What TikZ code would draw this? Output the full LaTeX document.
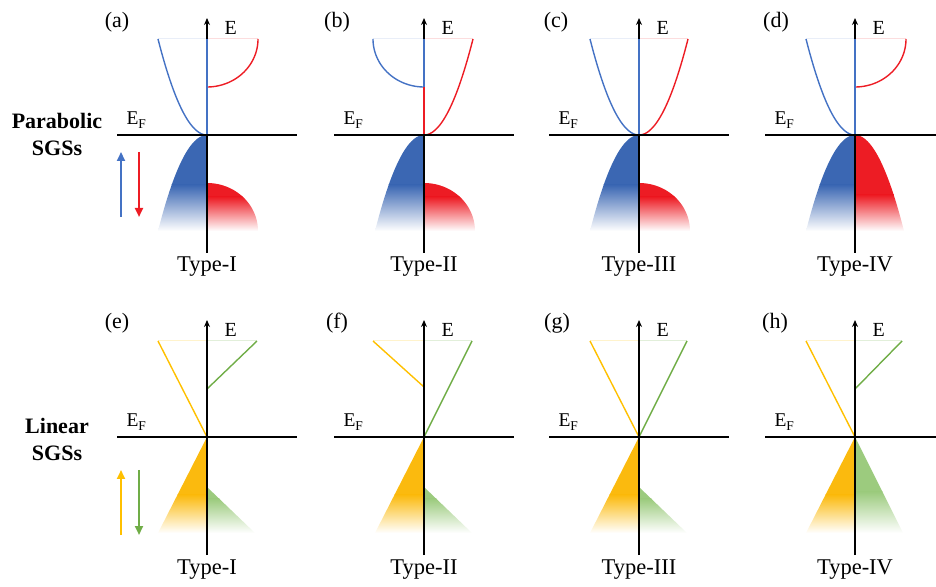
\documentclass[tikz,border=0pt]{standalone}
\usepackage{fontspec}
\setmainfont{Liberation Serif}
\usetikzlibrary{arrows.meta}
\definecolor{cblue}{HTML}{4472C4}
\definecolor{cbluef}{HTML}{3B67B3}
\definecolor{cred}{HTML}{ED1C24}
\definecolor{cyel}{HTML}{FFC000}
\definecolor{cyelf}{HTML}{FBBA0E}
\definecolor{cgrn}{HTML}{70AD47}
\definecolor{cgrnf}{HTML}{9CCB7E}
\tikzset{
  axisline/.style={line width=1.4pt,-{Stealth[length=7pt,width=6pt]}},
  efline/.style={line width=2pt},
  band/.style={line width=1.4pt},
  faint/.style={line width=1pt},
  sidearrow/.style={line width=2.2pt,-{Triangle[length=9pt,width=8pt]}},
  plbl/.style={font=\fontsize{22}{22}\selectfont},
  elbl/.style={font=\fontsize{20}{20}\selectfont,anchor=base west},
  eflbl/.style={font=\fontsize{19.5}{19.5}\selectfont,anchor=base west},
  tlbl/.style={font=\fontsize{22.5}{22.5}\selectfont,anchor=base},
  rowlbl/.style={font=\fontsize{22}{27}\selectfont\bfseries,align=center}
}
\newcommand{\UpParL}[1]{\draw[band,#1] plot[domain=-49:0,samples=40,smooth] (\x,{96*(\x/49)^2});}
\newcommand{\UpParR}[1]{\draw[band,#1] plot[domain=0:49,samples=40,smooth] (\x,{96*(\x/49)^2});}
\newcommand{\UpArcL}[1]{\draw[band,#1] plot[domain=0:90,samples=40,smooth] ({-51*sin(\x)},{96-48*cos(\x)});}
\newcommand{\UpArcR}[1]{\draw[band,#1] plot[domain=0:90,samples=40,smooth] ({51*sin(\x)},{96-48*cos(\x)});}
\newcommand{\GFill}[3]{\begin{scope}\clip #3;
  \fill[#1] (-60,1) rectangle (60,{#2-0.5});
  \shade[top color=#1,bottom color=white] (-60,#2) rectangle (60,-96);
  \end{scope}}
\newcommand{\PLoL}{(0,0) -- plot[domain=0:-49,samples=40,smooth] (\x,{-96*(\x/49)^2}) -- (0,-96) -- cycle}
\newcommand{\PLoR}{(0,0) -- plot[domain=0:49,samples=40,smooth] (\x,{-96*(\x/49)^2}) -- (0,-96) -- cycle}
\newcommand{\PArcR}{(0,-48) -- plot[domain=0:90,samples=40,smooth] ({51*sin(\x)},{-96+48*cos(\x)}) -- (0,-96) -- cycle}
\newcommand{\PTriL}{(0,0) -- (-49,-96) -- (0,-96) -- cycle}
\newcommand{\PTriR}{(0,0) -- (48,-96) -- (0,-96) -- cycle}
\newcommand{\PTriRs}{(0,-50) -- (48,-96) -- (0,-96) -- cycle}
\newcommand{\AxisE}[1]{\draw[axisline] (0,-118) -- (0,117);
  \node[elbl] (E#1) at (14,100) {E};}
\newcommand{\FermiLine}[2]{\draw[efline] (-90,0) -- (#2,0);
  \node[eflbl] (EF#1) at (-84,10) {E\raisebox{-4pt}{\fontsize{13.5}{13.5}\selectfont F}};}
\begin{document}
\begin{tikzpicture}[x=1pt,y=1pt]
\useasboundingbox (0,0) rectangle (936,586);
% ---------------- row labels and side arrows
\node[rowlbl] (rowP) at (57,452) {Parabolic\\SGSs};
\node[rowlbl] (rowL) at (57,147) {Linear\\SGSs};
\coordinate (bu0) at (121,369); \coordinate (bu1) at (121,434);
\coordinate (rd0) at (139,434); \coordinate (rd1) at (139,369);
\draw[sidearrow,cblue] (bu0) -- (bu1);
\draw[sidearrow,cred] (rd0) -- (rd1);
\coordinate (yu0) at (121,51); \coordinate (yu1) at (121,116);
\coordinate (gd0) at (139,116); \coordinate (gd1) at (139,51);
\draw[sidearrow,cyel] (yu0) -- (yu1);
\draw[sidearrow,cgrn] (gd0) -- (gd1);
% ---------------- (a)
\begin{scope}[shift={(207,451)}]
  \draw[faint,cblue!12] (-49,96) -- (0,96); \draw[faint,cred!15] (0,96) -- (51,96);
  \UpParL{cblue} \UpArcR{cred}
  \GFill{cbluef}{-50}{\PLoL}
  \GFill{cred}{-62}{\PArcR}
  \AxisE{a}
  \draw[band,cblue] (0,0) -- (0,96);
  \FermiLine{a}{90}
  \node[plbl] (la) at (-90,113) {(a)};
  \node[tlbl] (ta) at (0,-137) {Type-I};
\end{scope}
% ---------------- (b)
\begin{scope}[shift={(424,451)}]
  \draw[faint,cblue!12] (-51,96) -- (0,96); \draw[faint,cred!15] (0,96) -- (49,96);
  \UpArcL{cblue} \UpParR{cred}
  \GFill{cbluef}{-50}{\PLoL}
  \GFill{cred}{-62}{\PArcR}
  \AxisE{b}
  \draw[band,cblue] (0,48) -- (0,96);
  \draw[band,cred] (0,0) -- (0,48);
  \FermiLine{b}{90}
  \node[plbl] (lb) at (-87,113) {(b)};
  \node[tlbl] (tb) at (0,-137) {Type-II};
\end{scope}
% ---------------- (c)
\begin{scope}[shift={(639,451)}]
  \draw[faint,cblue!12] (-49,96) -- (0,96); \draw[faint,cred!15] (0,96) -- (49,96);
  \UpParL{cblue} \UpParR{cred}
  \GFill{cbluef}{-50}{\PLoL}
  \GFill{cred}{-62}{\PArcR}
  \AxisE{c}
  \draw[band,cblue] (0,0) -- (0,96);
  \FermiLine{c}{90}
  \node[plbl] (lc) at (-83,113) {(c)};
  \node[tlbl] (tc) at (0,-137) {Type-III};
\end{scope}
% ---------------- (d)
\begin{scope}[shift={(855,451)}]
  \draw[faint,cblue!12] (-49,96) -- (0,96); \draw[faint,cred!15] (0,96) -- (51,96);
  \UpParL{cblue} \UpArcR{cred}
  \GFill{cbluef}{-50}{\PLoL}
  \GFill{cred}{-60}{\PLoR}
  \AxisE{d}
  \draw[band,cblue] (0,0) -- (0,96);
  \FermiLine{d}{81}
  \node[plbl] (ld) at (-79,113) {(d)};
  \node[tlbl] (td) at (0,-137) {Type-IV};
\end{scope}
% ---------------- (e)
\begin{scope}[shift={(207,149)}]
  \draw[faint,cyel!20] (-49,96) -- (0,96); \draw[faint,cgrn!20] (0,96) -- (50,96);
  \draw[band,cyel] (0,0) -- (-49,96);
  \draw[band,cgrn] (0,48) -- (50,96);
  \GFill{cyelf}{-58}{\PTriL}
  \GFill{cgrnf}{-62}{\PTriRs}
  \AxisE{e}
  \FermiLine{e}{90}
  \node[plbl] (le) at (-90,114) {(e)};
  \node[tlbl] (te) at (0,-137) {Type-I};
\end{scope}
% ---------------- (f)
\begin{scope}[shift={(424,149)}]
  \draw[faint,cyel!20] (-51,96) -- (0,96); \draw[faint,cgrn!20] (0,96) -- (48,96);
  \draw[band,cyel] (0,50) -- (-51,96);
  \draw[band,cgrn] (0,0) -- (48,96);
  \GFill{cyelf}{-58}{\PTriL}
  \GFill{cgrnf}{-62}{\PTriRs}
  \AxisE{f}
  \FermiLine{f}{90}
  \node[plbl] (lf) at (-87,114) {(f)};
  \node[tlbl] (tf) at (0,-137) {Type-II};
\end{scope}
% ---------------- (g)
\begin{scope}[shift={(639,149)}]
  \draw[faint,cyel!20] (-49,96) -- (0,96); \draw[faint,cgrn!20] (0,96) -- (48,96);
  \draw[band,cyel] (0,0) -- (-49,96);
  \draw[band,cgrn] (0,0) -- (48,96);
  \GFill{cyelf}{-58}{\PTriL}
  \GFill{cgrnf}{-62}{\PTriRs}
  \AxisE{g}
  \FermiLine{g}{90}
  \node[plbl] (lg) at (-82,114) {(g)};
  \node[tlbl] (tg) at (0,-137) {Type-III};
\end{scope}
% ---------------- (h)
\begin{scope}[shift={(855,149)}]
  \draw[faint,cyel!20] (-49,96) -- (0,96); \draw[faint,cgrn!20] (0,96) -- (47,96);
  \draw[band,cyel] (0,0) -- (-49,96);
  \draw[band,cgrn] (0,48) -- (47,96);
  \GFill{cyelf}{-58}{\PTriL}
  \GFill{cgrnf}{-55}{\PTriR}
  \AxisE{h}
  \FermiLine{h}{81}
  \node[plbl] (lh) at (-80,114) {(h)};
  \node[tlbl] (th) at (0,-137) {Type-IV};
\end{scope}
\end{tikzpicture}
\end{document}
